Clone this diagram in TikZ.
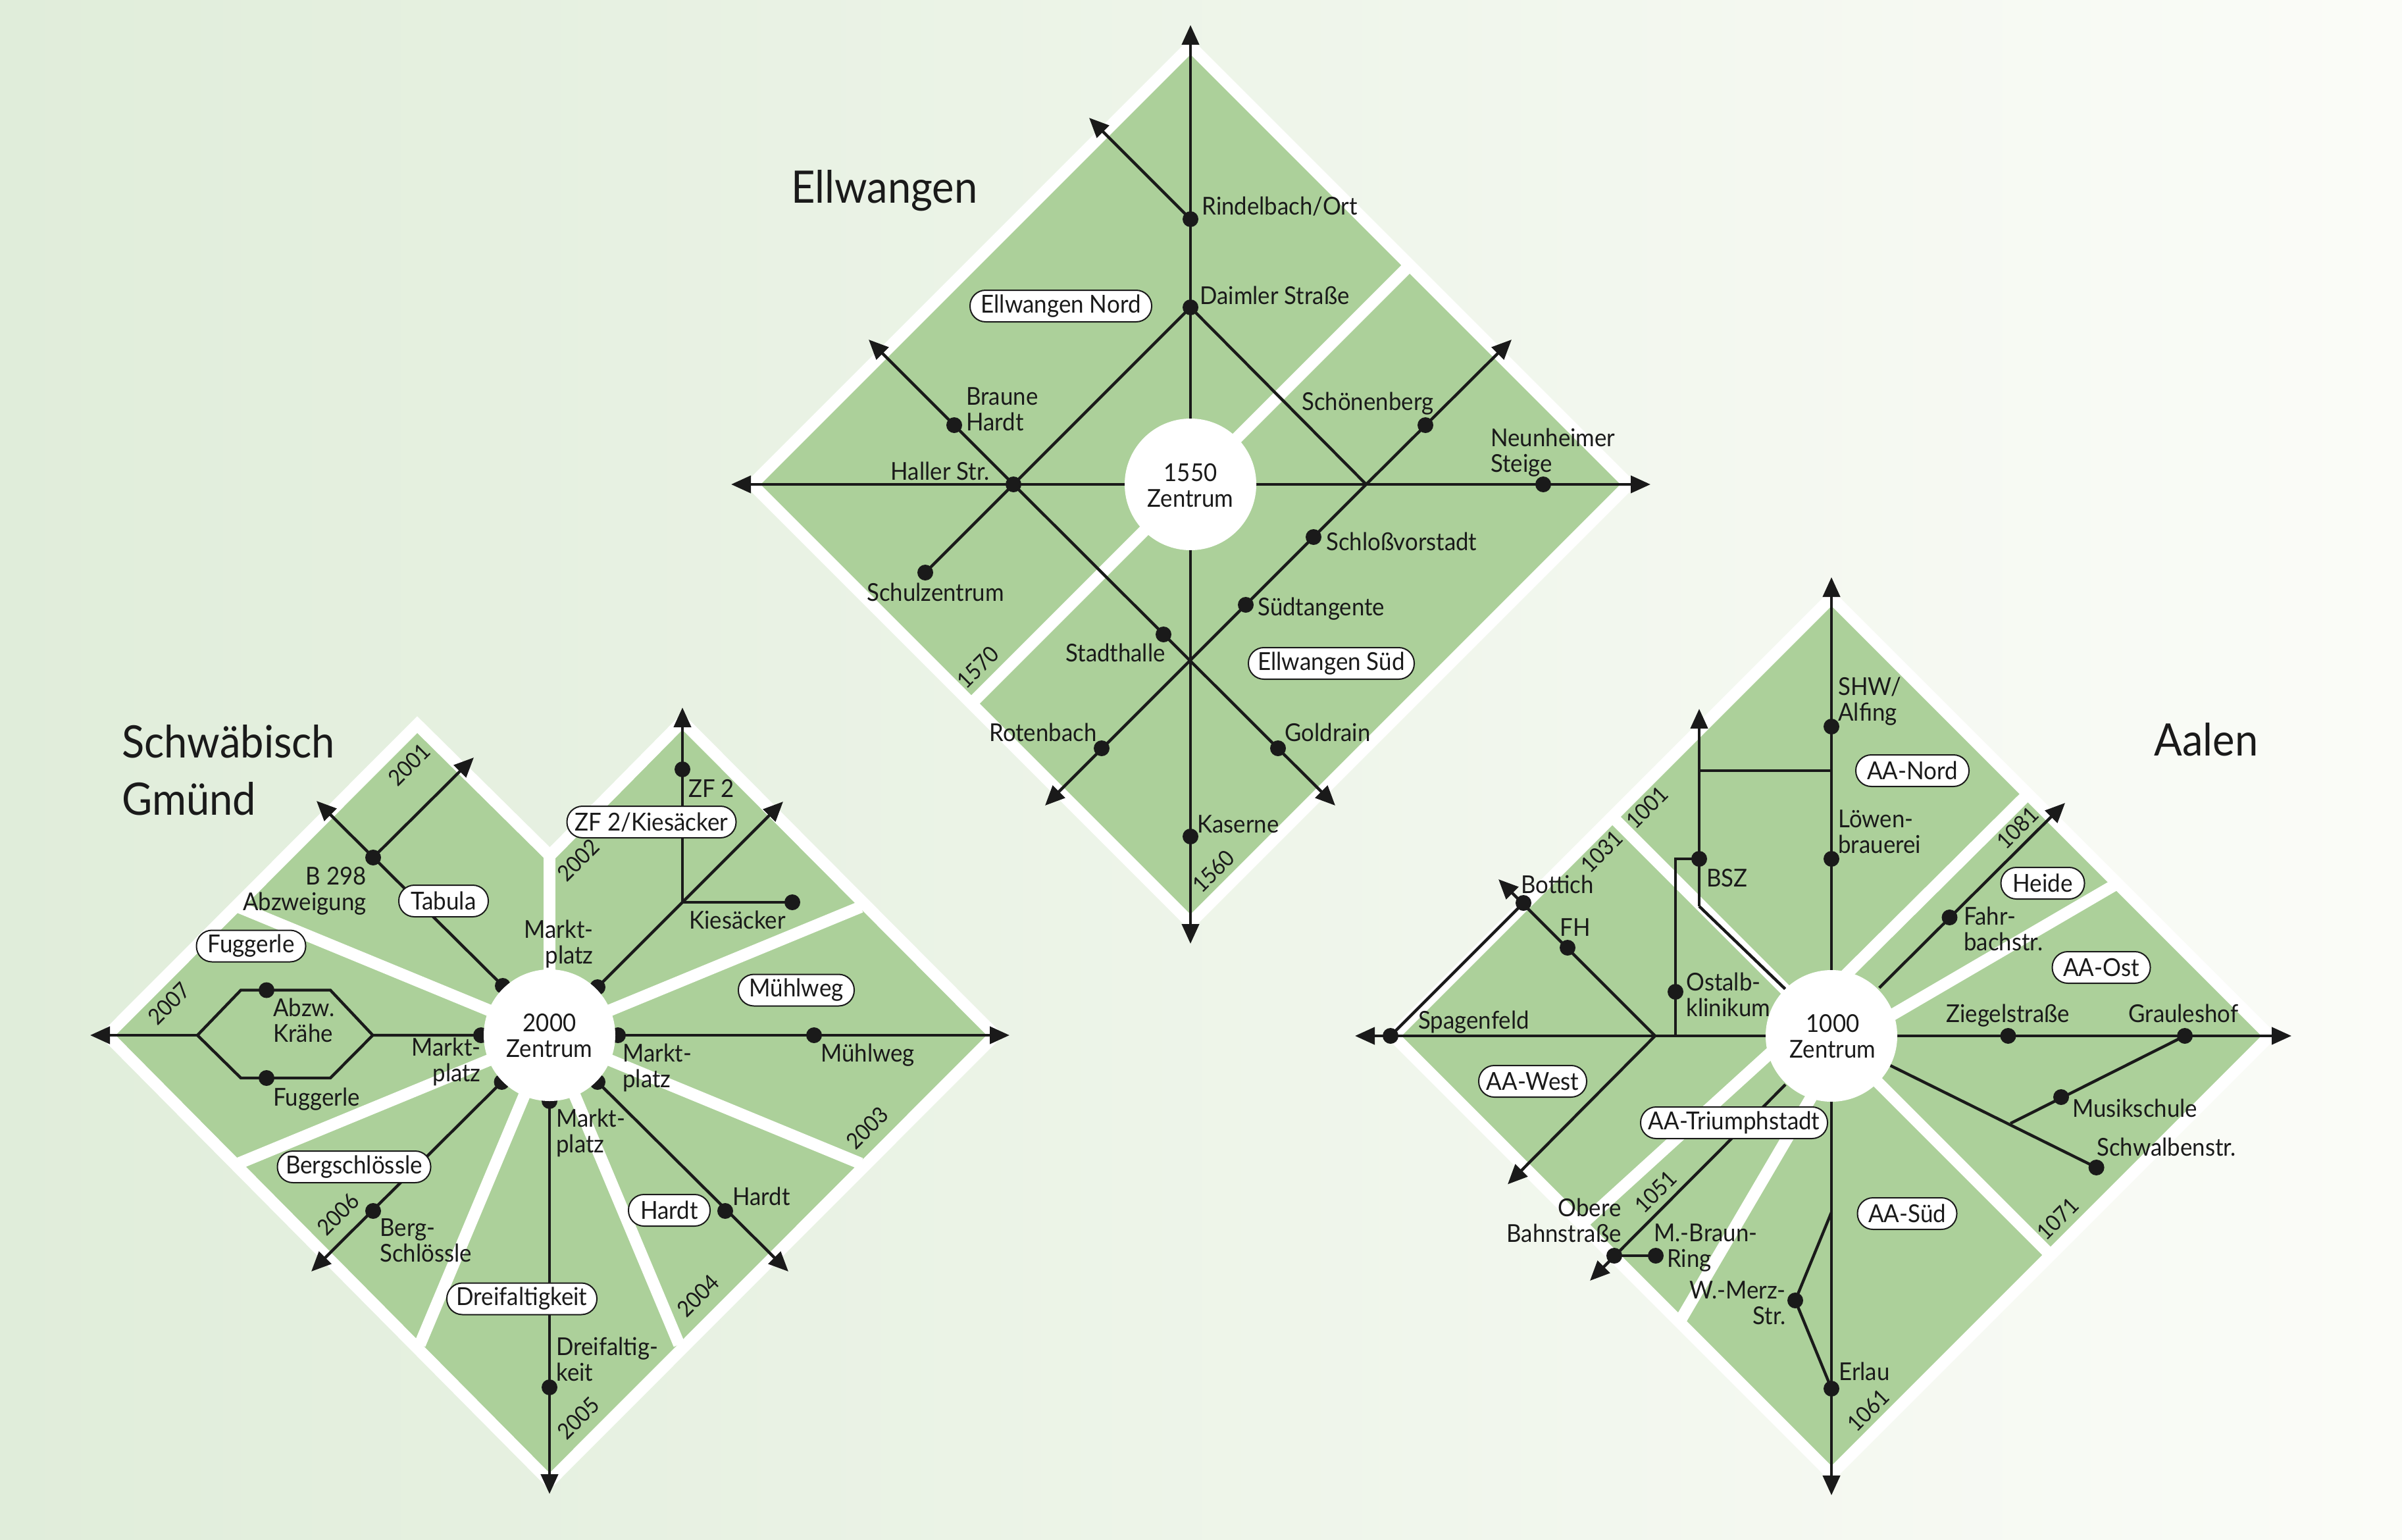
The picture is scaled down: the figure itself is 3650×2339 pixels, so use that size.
\documentclass[tikz,border=0pt]{standalone}
\usepackage{fontspec}
\setmainfont[FakeStretch=0.93]{Lato}
\usetikzlibrary{arrows.meta}
\definecolor{fieldgreen}{RGB}{172,208,154}
\definecolor{ink}{RGB}{26,26,26}
\definecolor{bgL}{RGB}{224,237,218}
\definecolor{bgR}{RGB}{251,252,248}
\newcommand{\lblfont}{\fontsize{18.7pt}{19.5pt}\selectfont}
\newcommand{\pillfont}{\fontsize{18.8pt}{20pt}\selectfont}
\tikzset{
  x=0.5pt,y=-0.5pt,
  bord/.style={fill=fieldgreen,draw=white,line width=9pt,line join=miter,miter limit=10},
  div/.style={draw=white,line width=9pt},
  hub/.style={circle,fill=white,minimum size=100pt,inner sep=0pt},
  ln/.style={draw=ink,line width=2.2pt,line join=miter},
  arr/.style={ln,-{Triangle[length=15pt,width=13pt]}},
  arrb/.style={ln,{Triangle[length=15pt,width=13pt]}-{Triangle[length=15pt,width=13pt]}},
  stp/.style={circle,fill=ink,minimum size=12pt,inner sep=0pt},
  lb/.style={font=\lblfont,text=ink,inner sep=0pt,anchor=base west},
  lbr/.style={font=\lblfont,text=ink,inner sep=0pt,anchor=base east},
  lbm/.style={font=\lblfont,text=ink,inner sep=0pt,align=left,anchor=west},
  lbmr/.style={font=\lblfont,text=ink,inner sep=0pt,align=right,anchor=east},
  hl/.style={font=\lblfont,text=ink,inner sep=0pt,align=center,anchor=center},
  num/.style={font=\fontsize{17pt}{20pt}\selectfont,text=ink,inner sep=0pt,rotate=45},
  pill/.style={font=\pillfont,text=ink,draw=ink,line width=1pt,fill=white,rounded corners=11.8pt,minimum height=24pt,inner sep=0pt,anchor=center},
  ttl/.style={font=\fontsize{34pt}{43.5pt}\selectfont,text=ink,inner sep=0pt,align=left,anchor=west},
}
\begin{document}
\begin{tikzpicture}
\useasboundingbox (0,0) rectangle (3650,2339);
\shade[left color=bgL,right color=bgR] (0,0) rectangle (3650,2339);
% ===== Ellwangen =====
\coordinate (Ec) at (1809,736);
\draw[bord] (1809,70) -- (2475,736) -- (1809,1402) -- (1143,736) -- cycle;
\draw[div] (2140,405) -- (Ec) -- (1478,1067);
\coordinate (Et) at (1809,38); \coordinate (Eb) at (1809,1434);
\coordinate (El) at (1111,736); \coordinate (Er) at (2508,736);
\coordinate (Ej) at (2076,736);
\node[stp] (Erin) at (1809,333) {}; \node[stp] (Edai) at (1809,467) {};
\node[stp] (Ehal) at (1540,736) {}; \node[stp] (Ebra) at (1450,646) {};
\node[stp] (Esch) at (1406,870) {}; \node[stp] (Esta) at (1768,964) {};
\node[stp] (Egol) at (1942,1137) {}; \node[stp] (Esho) at (2166,646) {};
\node[stp] (Eslo) at (1996,816) {}; \node[stp] (Esue) at (1893,919) {};
\node[stp] (Erot) at (1674,1137) {}; \node[stp] (Eneu) at (2345,736) {};
\node[stp] (Ekas) at (1809,1271) {};
\coordinate (Ea1) at (1655,179); \coordinate (Ea2) at (1320,516);
\coordinate (Ea3) at (2029,1224); \coordinate (Ea4) at (2297,516);
\coordinate (Ea5) at (1588,1224);
\draw[arrb] (Eb) -- (Et);
\draw[arrb] (El) -- (Er);
\draw[arr] (Erin.center) -- (Ea1);
\draw[ln] (Edai.center) -- (Ehal.center) -- (Esch.center);
\draw[ln] (Edai.center) -- (Ej);
\draw[arr] (Ehal.center) -- (Ea2);
\draw[arr] (Ehal.center) -- (Ea3);
\draw[arr] (Ej) -- (Ea4);
\draw[arr] (Ej) -- (Ea5);
\node[hub] (Ehub) at (Ec) {};
\node[hl] (Ezt) at (1809,738) {1550\\Zentrum};
\node[ttl] (Ettl) at (1202,290) {Ellwangen};
\node[lb] (Lrin) at (1826,326) {Rindelbach/Ort};
\node[lb] (Ldai) at (1823,462) {Daimler Straße};
\node[lbm] (Lbra) at (1468,622) {Braune\\Hardt};
\node[lbr] (Lhal) at (1504,729) {Haller Str.};
\node[lb] (Lsch) at (1317,913) {Schulzentrum};
\node[lb] (Lsho) at (1978,623) {Schönenberg};
\node[lbm] (Lneu) at (2265,688) {Neunheimer\\Steige};
\node[lb] (Lslo) at (2015,836) {Schloßvorstadt};
\node[lb] (Lsue) at (1911,935) {Südtangente};
\node[lb] (Lsta) at (1619,1005) {Stadthalle};
\node[lb] (Lrot) at (1503,1126) {Rotenbach};
\node[lb] (Lgol) at (1952,1126) {Goldrain};
\node[lb] (Lkas) at (1819,1265) {Kaserne};
\node[num] (N1570) at (1486,1014) {1570};
\node[num] (N1560) at (1844,1324) {1560};
\node[pill,minimum width=138pt] (PEN) at (1612,465) {Ellwangen Nord};
\node[pill,minimum width=126pt] (PES) at (2023,1008) {Ellwangen Süd};
% ===== Schwäbisch Gmünd =====
\coordinate (Gc) at (835,1573);
\draw[bord] (163,1573) -- (634,1101) -- (835.5,1300) -- (1037,1096) -- (1512,1573) -- (835,2251) -- cycle;
\draw[div] (Gc) -- (835,1300);
\draw[div] (Gc) -- (1308,1378);
\draw[div] (Gc) -- (1308,1768);
\draw[div] (Gc) -- (1032,2043);
\draw[div] (Gc) -- (638,2043);
\draw[div] (Gc) -- (362,1768);
\draw[div] (Gc) -- (362,1378);
\coordinate (Gtop) at (1037,1075); \coordinate (Gj) at (1037,1371);
\coordinate (Gne) at (1190,1218); \coordinate (Gnw) at (481,1217);
\coordinate (Gnn) at (720,1151); \coordinate (Gl) at (137,1573);
\coordinate (Gr) at (1534,1573); \coordinate (Gb) at (835,2270);
\coordinate (Gsw) at (473,1932); \coordinate (Gse) at (1198,1932);
\coordinate (Gh1) at (566.5,1573); \coordinate (Gh2) at (502,1504.5);
\coordinate (Gh3) at (366,1504.5); \coordinate (Gh4) at (300,1573);
\coordinate (Gh5) at (366,1638); \coordinate (Gh6) at (502,1638);
\node[stp] (Gm1) at (764,1498) {}; \node[stp] (Gm2) at (908,1500) {};
\node[stp] (Gm3) at (731,1573) {}; \node[stp] (Gm4) at (939,1573) {};
\node[stp] (Gm5) at (762.5,1644) {}; \node[stp] (Gm6) at (908,1644) {};
\node[stp] (Gm7) at (835,1673) {};
\node[stp] (Gzf) at (1037,1169) {}; \node[stp] (Gkie) at (1204,1371) {};
\node[stp] (Gb298) at (567,1303) {}; \node[stp] (Gabz) at (405,1504.5) {};
\node[stp] (Gfug) at (405,1638) {}; \node[stp] (Gmue) at (1237,1573) {};
\node[stp] (Gber) at (567,1840) {}; \node[stp] (Ghar) at (1102,1840) {};
\node[stp] (Gdre) at (835,2108) {};
\draw[arr] (Gj) -- (Gtop);
\draw[arr] (Gm2.center) -- (Gj) -- (Gne);
\draw[ln] (Gj) -- (Gkie.center);
\draw[arr] (Gm1.center) -- (Gnw);
\draw[arr] (Gb298.center) -- (Gnn);
\draw[ln] (Gm3.center) -- (Gh1) -- (Gh2) -- (Gh3) -- (Gh4);
\draw[ln] (Gh1) -- (Gh6) -- (Gh5) -- (Gh4);
\draw[arr] (Gh4) -- (Gl);
\draw[arr] (Gm4.center) -- (Gr);
\draw[arr] (Gm5.center) -- (Gsw);
\draw[arr] (Gm6.center) -- (Gse);
\draw[arr] (Gm7.center) -- (Gb);
\node[hub] (Ghub) at (Gc) {};
\node[hl] (Gzt) at (835,1574) {2000\\Zentrum};
\node[ttl] (Gttl) at (185,1170) {Schwäbisch\\Gmünd};
\node[num] (N2001) at (622,1162) {2001};
\node[num] (N2002) at (879,1307) {2002};
\node[num] (N2003) at (1318,1714) {2003};
\node[num] (N2004) at (1061,1969) {2004};
\node[num] (N2005) at (879,2155) {2005};
\node[num] (N2006) at (514,1845) {2006};
\node[num] (N2007) at (257,1525) {2007};
\node[lb] (Lzf) at (1046,1211) {ZF 2};
\node[lb] (Lkie) at (1047,1411) {Kiesäcker};
\node[lbmr] (Lmp1) at (902,1434) {Markt-\\platz};
\node[lbmr] (Lb298) at (557,1354) {B 298\\Abzweigung};
\node[lb] (Lmue) at (1247,1613) {Mühlweg};
\node[lbm] (Labz) at (415,1550) {Abzw.\\Krähe};
\node[lb] (Lfug) at (415,1680) {Fuggerle};
\node[lbmr] (Lmp2) at (731,1613) {Markt-\\platz};
\node[lbm] (Lmp3) at (946,1622) {Markt-\\platz};
\node[lbm] (Lmp4) at (845,1721) {Markt-\\platz};
\node[lbm] (Lber) at (577,1885) {Berg-\\Schlössle};
\node[lb] (Lhar) at (1113,1831) {Hardt};
\node[lbm] (Ldre) at (845,2065) {Dreifaltig-\\keit};
\node[pill,minimum width=128.5pt] (PZF) at (990,1249) {ZF 2/Kiesäcker};
\node[pill,minimum width=68pt] (PTa) at (674,1369) {Tabula};
\node[pill,minimum width=83pt] (PFu) at (381.5,1437.5) {Fuggerle};
\node[pill,minimum width=88pt] (PMu) at (1210,1504.5) {Mühlweg};
\node[pill,minimum width=116.5pt] (PBe) at (538,1773) {Bergschlössle};
\node[pill,minimum width=62pt] (PHa) at (1017,1839) {Hardt};
\node[pill,minimum width=114pt] (PDr) at (793,1973.5) {Dreifaltigkeit};
% ===== Aalen =====
\coordinate (Ac) at (2783,1574);
\draw[bord] (2783,908) -- (3449,1574) -- (2783,2240) -- (2117,1574) -- cycle;
\draw[div] (2804,1482) -- (3082,1206);
\draw[div] (2860,1551) -- (3218,1342);
\draw[div] (Ac) -- (3116,1907);
\draw[div] (2770,1637) -- (2553,2007);
\draw[div] (2701,1590) -- (2403,1861);
\draw[div] (Ac) -- (2449,1240);
\coordinate (At) at (2783,877); \coordinate (Ab) at (2783,2272);
\coordinate (Al) at (2059,1574); \coordinate (Ar) at (3482,1574);
\coordinate (Ab1) at (2783,1171); \coordinate (Ab2) at (2582,1171);
\coordinate (Atb) at (2582,1077); \coordinate (Ab3) at (2582,1377);
\coordinate (Ab4) at (2713,1503); \coordinate (Ab5) at (2546,1305);
\coordinate (Ab6) at (2546,1574); \coordinate (Aj) at (2515,1574);
\coordinate (Ann) at (2277,1336); \coordinate (Asw) at (2291,1799.5);
\coordinate (Atr) at (2713,1648); \coordinate (Asa) at (2416,1946);
\coordinate (Ars1) at (3055,1707); \coordinate (Ars2) at (2872.5,1619);
\coordinate (Ane1) at (2855.6,1501); \coordinate (Ane2) at (3138,1220);
\coordinate (Asm) at (2783,1842);
\node[stp] (Ashw) at (2783,1104) {}; \node[stp] (Aloe) at (2783,1305) {};
\node[stp] (Absz) at (2582,1305) {}; \node[stp] (Aost) at (2546,1507) {};
\node[stp] (Aspa) at (2113,1574) {}; \node[stp] (Afh) at (2382,1440) {};
\node[stp] (Abot) at (2315,1372) {}; \node[stp] (Aobe) at (2453,1908) {};
\node[stp] (Abra) at (2516,1908) {}; \node[stp] (Azie) at (3051.5,1574) {};
\node[stp] (Agra) at (3320,1574) {}; \node[stp] (Amus) at (3132,1667) {};
\node[stp] (Asch) at (3185.6,1774) {}; \node[stp] (Afah) at (2962.5,1394) {};
\node[stp] (Awme) at (2728,1976) {}; \node[stp] (Aerl) at (2783,2110) {};
\draw[arrb] (Ab) -- (At);
\draw[arrb] (Al) -- (Ar);
\draw[ln] (Ab1) -- (Ab2);
\draw[arr] (Ab3) -- (Atb);
\draw[ln] (Ab3) -- (Ab4);
\draw[ln] (Absz.center) -- (Ab5) -- (Ab6);
\draw[arr] (Aj) -- (Ann);
\draw[ln] (Aspa.center) -- (Abot.center);
\draw[arr] (Aj) -- (Asw);
\draw[arr] (Atr) -- (Asa);
\draw[ln] (Aobe.center) -- (Abra.center);
\draw[ln] (Agra.center) -- (Ars1);
\draw[ln] (Ars2) -- (Asch.center);
\draw[arr] (Ane1) -- (Ane2);
\draw[ln] (Asm) -- (Awme.center) -- (Aerl.center);
\node[hub] (Ahub) at (Ac) {};
\node[hl] (Azt) at (2785,1575) {1000\\Zentrum};
\node[ttl] (Attl) at (3273,1124) {Aalen};
\node[num] (N1001) at (2503,1227) {1001};
\node[num] (N1031) at (2434,1294) {1031};
\node[num] (N1081) at (3066,1258) {1081};
\node[num] (N1051) at (2516,1811) {1051};
\node[num] (N1061) at (2839,2143) {1061};
\node[num] (N1071) at (3127,1852) {1071};
\node[lbm] (Lshw) at (2793,1066) {SHW/\\Alfing};
\node[lbm] (Lloe) at (2793,1264) {Löwen-\\brauerei};
\node[lb] (Lbsz) at (2593,1347) {BSZ};
\node[lbm] (Lfah) at (2984,1411) {Fahr-\\bachstr.};
\node[lb] (Lbot) at (2311,1357) {Bottich};
\node[lb] (Lfh) at (2370,1422) {FH};
\node[lbm] (Lost) at (2562,1511) {Ostalb-\\klinikum};
\node[lb] (Lspa) at (2155,1563) {Spagenfeld};
\node[lbmr] (Lobe) at (2464,1854) {Obere\\Bahnstraße};
\node[lbm] (Lmbr) at (2513,1896) {M.-Braun-\\\hspace*{10pt}Ring};
\node[lbmr] (Lwme) at (2714,1980) {W.-Merz-\\Str.};
\node[lb] (Lerl) at (2794,2097) {Erlau};
\node[lb] (Lzie) at (2957,1553) {Ziegelstraße};
\node[lb] (Lgra) at (3234,1553) {Grauleshof};
\node[lb] (Lmus) at (3149,1697) {Musikschule};
\node[lb] (Lsba) at (3186,1756) {Schwalbenstr.};
\node[pill,minimum width=86pt] (PAN) at (2906,1171) {AA-Nord};
\node[pill,minimum width=63.5pt] (PHe) at (3104,1342) {Heide};
\node[pill,minimum width=74.5pt] (PAO) at (3193,1470) {AA-Ost};
\node[pill,minimum width=82pt] (PAW) at (2329,1643) {AA-West};
\node[pill,minimum width=142pt] (PAT) at (2635,1706) {AA-Triumphstadt};
\node[pill,minimum width=75.5pt] (PAS) at (2898,1844) {AA-Süd};
\end{tikzpicture}
\end{document}
